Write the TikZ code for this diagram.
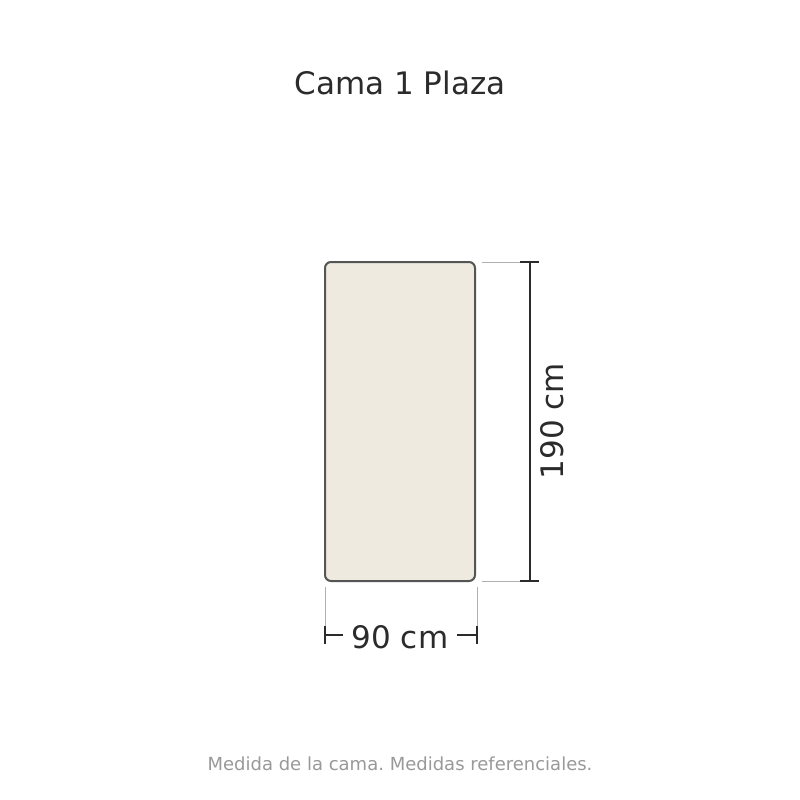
\documentclass[tikz,border=0pt]{standalone}
\usepackage{fontspec}
\setmainfont{DejaVu Sans}
\frenchspacing
\definecolor{bedfill}{HTML}{EEEAE0}
\definecolor{bededge}{HTML}{555555}
\definecolor{dimdark}{HTML}{2B2B2B}
\definecolor{notegray}{HTML}{999999}
\definecolor{extgray}{HTML}{B0B0B0}
\tikzset{
  extline/.style={extgray, line width=1pt},
  dimline/.style={dimdark, line width=2pt},
  bigtext/.style={text=dimdark, font=\fontsize{31}{37}\selectfont, inner sep=0pt}
}
\begin{document}
\begin{tikzpicture}[x=1pt, y=-1pt]

\useasboundingbox (0,0) rectangle (800,800);
\fill[white] (0,0) rectangle (800,800);

\node[bigtext] (title) at (400, 83) {Cama 1 Plaza};

% the bed
\draw[bededge, fill=bedfill, line width=2pt, rounded corners=6pt] (325,262) rectangle (475,581);

% length
\coordinate (ltop) at (530,262);
\coordinate (lbot) at (530,581);
\draw[extline] (482,262) -- (520,262);
\draw[extline] (482,581) -- (520,581);
\draw[dimline] (ltop) -- (lbot);
\draw[dimline] (520,262) -- (539,262);
\draw[dimline] (520,581) -- (539,581);
\node[bigtext, rotate=90] (length) at (552, 421) {190 cm};

% width
\coordinate (wleft) at (325,635);
\coordinate (wright) at (477,635);
\draw[extline] (325,587) -- (325,626);
\draw[extline] (477,587) -- (477,626);
\node[bigtext] (width) at (400, 637) {90 cm};
\draw[dimline] (wleft) -- (343,635);
\draw[dimline] (457,635) -- (wright);
\draw[dimline] (325,626) -- (325,644);
\draw[dimline] (477,626) -- (477,644);

\node[text=notegray, font=\fontsize{18}{22}\selectfont] (note) at (400, 764) {Medida de la cama. Medidas referenciales.};

\end{tikzpicture}
\end{document}
